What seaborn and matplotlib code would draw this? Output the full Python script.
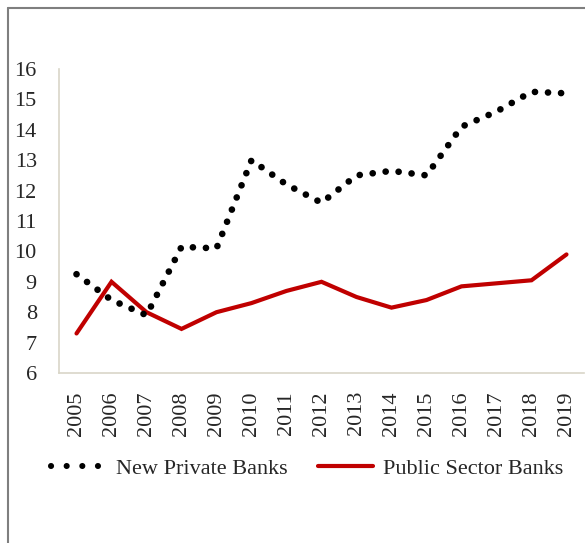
import numpy as np
import pandas as pd
import matplotlib
matplotlib.use('Agg')
from matplotlib import pyplot as plt
from matplotlib.lines import Line2D
import seaborn as sns

years = [str(y) for y in range(2005, 2020)]
new_private = [9.25, 8.4, 7.9, 10.15, 10.1, 13.0, 12.2, 11.6, 12.5, 12.65, 12.5, 14.1, 14.6, 15.25, 15.2]
public_sector = [7.3, 9.0, 8.0, 7.45, 8.0, 8.3, 8.7, 9.0, 8.5, 8.15, 8.4, 8.85, 8.95, 9.05, 9.9]
series_names = ['New Private Banks', 'Public Sector Banks']
y_ticks = list(range(6, 17))

sns.set_style('white')
plt.rcParams['font.family'] = ['Liberation Serif', 'DejaVu Serif']

df = pd.DataFrame({
    'year': years * 2,
    'value': new_private + public_sector,
    'series': [series_names[0]] * len(years) + [series_names[1]] * len(years),
})

fig = plt.figure(figsize=(5.85, 5.43), dpi=100)
ax = fig.add_axes([59 / 585, 1 - 373 / 543, 525 / 585, 304 / 543])

sns.lineplot(
    data=df[df['series'] == series_names[1]], x='year', y='value',
    color='#C00000', linewidth=3.0, ax=ax, legend=False,
    solid_joinstyle='miter',
)
sns.lineplot(
    data=df[df['series'] == series_names[0]], x='year', y='value',
    color='black', linewidth=4.8, ax=ax, legend=False,
    linestyle=(0, (0.01, 1.95)), dash_capstyle='round',
)

ax.set_xlim(-0.5, len(years) - 0.5)
ax.set_ylim(6, 16)
ax.set_yticks(y_ticks)
ax.set_yticklabels([str(t) for t in y_ticks], fontsize=16)
ax.set_xticks(range(len(years)))
ax.set_xticklabels(years, rotation=90, fontsize=16)
ax.tick_params(axis='y', length=0, pad=16)
ax.tick_params(axis='x', length=0, pad=13)
ax.set_xlabel('')
ax.set_ylabel('')
for side in ['top', 'right']:
    ax.spines[side].set_visible(False)
for side in ['left', 'bottom']:
    ax.spines[side].set_color('#D9D6C8')
    ax.spines[side].set_linewidth(1.2)

handles = [
    Line2D([], [], color='black', linewidth=4.4, linestyle=(0, (0.01, 2.55)), dash_capstyle='round'),
    Line2D([], [], color='#C00000', linewidth=3.0, solid_capstyle='round'),
]
fig.legend(handles, series_names, loc='center', bbox_to_anchor=(0.525, 0.137), ncol=2,
           frameon=False, fontsize=16, handlelength=2.5, columnspacing=1.35, handletextpad=0.45)

# outer chart frame (only left and top edges visible)
fig.add_artist(Line2D([8 / 585, 8 / 585], [0, 1 - 8 / 543], color='#7F7F7F', linewidth=1.5))
fig.add_artist(Line2D([8 / 585, 1], [1 - 8 / 543, 1 - 8 / 543], color='#7F7F7F', linewidth=1.5))

fig.savefig('out.png', dpi=100)
plt.close('all')
